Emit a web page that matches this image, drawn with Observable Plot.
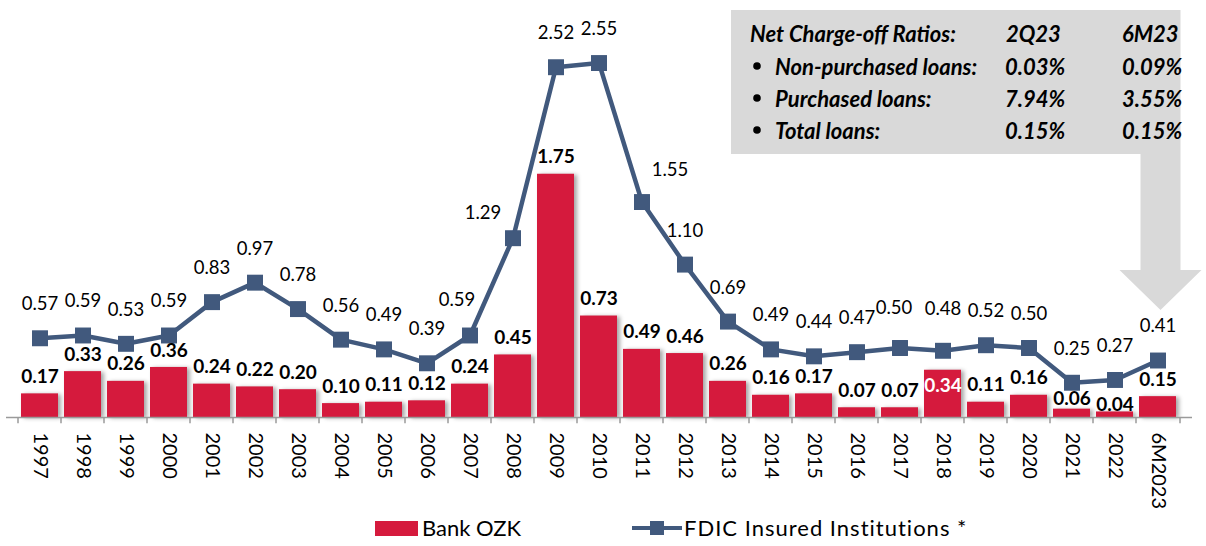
<!DOCTYPE html>
<html>
<head>
<meta charset="utf-8">
<script src="https://cdn.jsdelivr.net/npm/d3@7"></script>
<script src="https://cdn.jsdelivr.net/npm/@observablehq/plot@0.6"></script>
<style>
  html, body { margin: 0; padding: 0; background: #fff; }
  #wrap { position: relative; width: 1206px; height: 546px; font-family: Lato, "Open Sans", sans-serif; overflow: hidden; }
  #overlay { position: absolute; left: 0; top: 0; pointer-events: none; }
  #legend { position: absolute; left: 0; top: 0; width: 1206px; height: 546px; pointer-events: none; }
  .lg-text { position: absolute; font-size: 22px; color: #000; line-height: 22px; white-space: nowrap; }
</style>
</head>
<body>
<div id="wrap"></div>
<script>
// ---------- data ----------
const categories = ["1997","1998","1999","2000","2001","2002","2003","2004","2005","2006","2007","2008","2009","2010","2011","2012","2013","2014","2015","2016","2017","2018","2019","2020","2021","2022","6M2023"];
const bankOZK = [0.17,0.33,0.26,0.36,0.24,0.22,0.20,0.10,0.11,0.12,0.24,0.45,1.75,0.73,0.49,0.46,0.26,0.16,0.17,0.07,0.07,0.34,0.11,0.16,0.06,0.04,0.15];
const fdic    = [0.57,0.59,0.53,0.59,0.83,0.97,0.78,0.56,0.49,0.39,0.59,1.29,2.52,2.55,1.55,1.10,0.69,0.49,0.44,0.47,0.50,0.48,0.52,0.50,0.25,0.27,0.41];
const seriesNames = ["Bank OZK", "FDIC Insured Institutions *"];
const calloutTitle = ["Net Charge-off Ratios:", "2Q23", "6M23"];
const calloutRows = ["Non-purchased loans:", "Purchased loans:", "Total loans:"];
const ratios2Q23 = ["0.03%", "7.94%", "0.15%"];
const ratios6M23 = ["0.09%", "3.55%", "0.15%"];

const rows = categories.map((c, i) => ({cat: c, ozk: bankOZK[i], fdic: fdic[i]}));

// ---------- styles ----------
const RED = "#d51a3d";
const BLUE = "#41597d";
const GRAY = "#d9d9d9";

// label nudges (pixel offsets) for a few points, like the original
const fdicNudge = {"2007": [-13, -35], "2008": [-30, -25], "2011": [28, -32], "2017": [-6, -40], "2018": [0, -42]};
const ozkNudge = {"2018": [0, 16, "#fff"], "2021": [0, -10, "#000"], "2022": [0, -7, "#000"]};

const fdicDefault = rows.filter(d => !(d.cat in fdicNudge));
const ozkDefault = rows.filter(d => !(d.cat in ozkNudge));

const fdicNudgeMarks = Object.entries(fdicNudge).map(([c, [dx, dy]]) =>
  Plot.text(rows.filter(d => d.cat === c), {x: "cat", y: "fdic", text: d => d.fdic.toFixed(2), dx, dy, fontSize: 18.5, fill: "#000"}));
const ozkNudgeMarks = Object.entries(ozkNudge).map(([c, [dx, dy, col]]) =>
  Plot.text(rows.filter(d => d.cat === c), {x: "cat", y: "ozk", text: d => d.ozk.toFixed(2), dx, dy, fontSize: 19, fontWeight: "bold", fill: col}));

const plot = Plot.plot({
  width: 1206,
  height: 500,
  marginTop: 0,
  marginBottom: 83,
  marginLeft: 2,
  marginRight: 11,
  style: {fontFamily: "Lato, 'Open Sans', sans-serif", fontSize: "20px", color: "#000", background: "transparent", overflow: "visible"},
  x: {domain: categories, padding: 0.15, label: null, tickRotate: 90, tickSize: 0, tickPadding: 15},
  y: {domain: [0, 3], axis: null},
  marks: [
    Plot.barY(rows, {x: "cat", y: "ozk", fill: RED}),
    Plot.ruleY([0], {stroke: "#9a9a9a", strokeWidth: 1.5, insetLeft: 4, insetRight: 3}),
    Plot.ruleX(categories, {x: d => d, y1: 0, y2: -0.045, dx: -22, stroke: "#9a9a9a", strokeWidth: 1.5}),
    Plot.ruleX(categories.slice(-1), {x: d => d, y1: 0, y2: -0.045, dx: 22, stroke: "#9a9a9a", strokeWidth: 1.5}),
    Plot.line(rows, {x: "cat", y: "fdic", stroke: BLUE, strokeWidth: 4.5}),
    Plot.dot(rows, {x: "cat", y: "fdic", symbol: "square", r: 9, fill: BLUE}),
    Plot.text(fdicDefault, {x: "cat", y: "fdic", text: d => d.fdic.toFixed(2), dy: -34, fontSize: 18.5, fill: "#000"}),
    ...fdicNudgeMarks,
    Plot.text(ozkDefault, {x: "cat", y: "ozk", text: d => d.ozk.toFixed(2), dy: -17, fontSize: 19, fontWeight: "bold", fill: "#000"}),
    ...ozkNudgeMarks
  ]
});

const wrap = document.getElementById("wrap");
wrap.appendChild(plot);

// subtle shadow on bars like the original
const barG = plot.querySelector('g[aria-label="bar"]');
if (barG) barG.style.filter = "drop-shadow(3px 1px 2px rgba(0,0,0,0.35))";

// ---------- callout ----------
const xs = plot.scale("x");
const lastX = xs.apply(categories[categories.length - 1]) + xs.bandwidth / 2 + 3;
const ov = d3.select(wrap).append("svg").attr("id", "overlay").attr("width", 1206).attr("height", 500);
const stemHalf = 20, headHalf = 41;
ov.append("path")
  .attr("fill", GRAY)
  .attr("d", `M731,10 H${lastX + stemHalf} V270 H${lastX + headHalf} L${lastX},310 L${lastX - headHalf},270 H${lastX - stemHalf} V154 H731 Z`);
const tg = ov.append("g").attr("font-family", "Lato, 'Open Sans', sans-serif").attr("font-size", 22)
  .attr("font-weight", "bold").attr("font-style", "italic").attr("fill", "#000");
const rowY = [33, 66, 98, 130];
tg.append("text").attr("x", 750).attr("y", rowY[0]).attr("dominant-baseline", "central").text(calloutTitle[0]);
tg.append("text").attr("x", 1006).attr("y", rowY[0]).attr("dominant-baseline", "central").text(calloutTitle[1]);
tg.append("text").attr("x", 1122).attr("y", rowY[0]).attr("dominant-baseline", "central").text(calloutTitle[2]);
calloutRows.forEach((r, i) => {
  const y = rowY[i + 1];
  tg.append("circle").attr("cx", 757).attr("cy", y).attr("r", 3.8).attr("fill", "#000");
  tg.append("text").attr("x", 775).attr("y", y).attr("dominant-baseline", "central").text(r);
  tg.append("text").attr("x", 1005).attr("y", y).attr("dominant-baseline", "central").text(ratios2Q23[i]);
  tg.append("text").attr("x", 1122).attr("y", y).attr("dominant-baseline", "central").text(ratios6M23[i]);
});

// ---------- legend ----------
const lg = d3.select(wrap).append("div").attr("id", "legend");
lg.append("div").style("position", "absolute").style("left", "375px").style("top", "521px")
  .style("width", "43px").style("height", "15px").style("background", RED);
lg.append("div").attr("class", "lg-text").style("left", "422px").style("top", "517px").text(seriesNames[0]);
const ls = lg.append("svg").style("position", "absolute").style("left", "630px").style("top", "518px")
  .attr("width", 54).attr("height", 20);
ls.append("line").attr("x1", 2).attr("x2", 52).attr("y1", 10).attr("y2", 10).attr("stroke", BLUE).attr("stroke-width", 4);
ls.append("rect").attr("x", 20).attr("y", 3).attr("width", 14).attr("height", 14).attr("fill", BLUE);
lg.append("div").attr("class", "lg-text").style("left", "684px").style("top", "517px").style("letter-spacing", "1px").text(seriesNames[1]);
</script>
</body>
</html>
